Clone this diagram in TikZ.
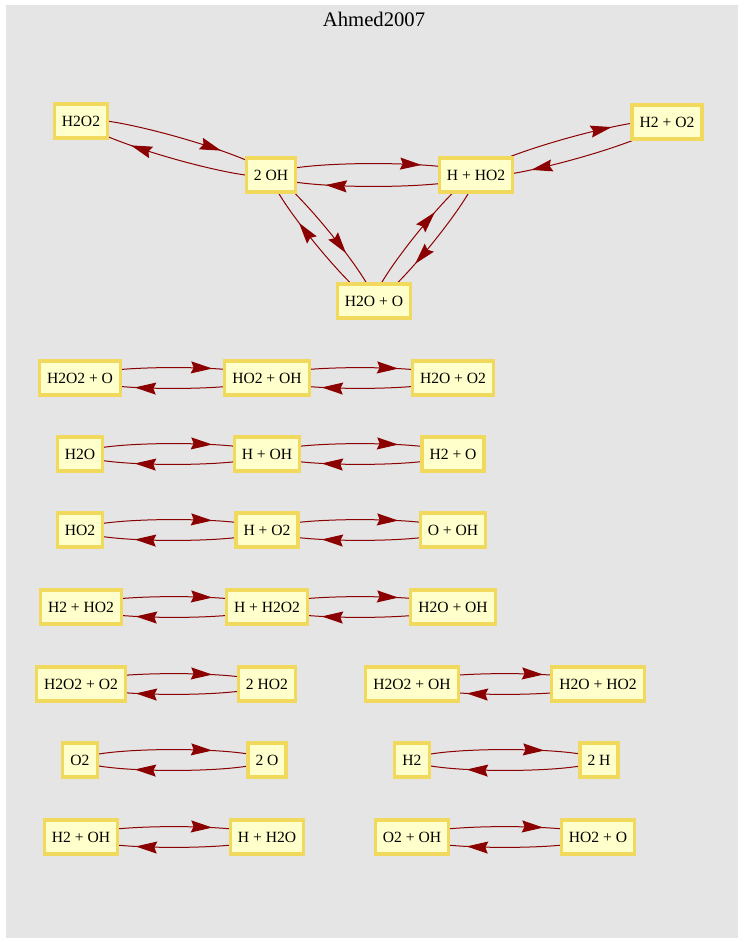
\documentclass[tikz,border=0pt]{standalone}
\usepackage{fontspec}
\setmainfont{Liberation Serif}
\usetikzlibrary{arrows.meta,decorations.markings}
\definecolor{spfill}{RGB}{255,255,204}
\definecolor{spline}{RGB}{241,217,93}
\definecolor{rxncol}{RGB}{139,0,0}
\definecolor{panel}{RGB}{229,229,229}
\pgfdeclarelayer{bg}
\pgfsetlayers{bg,main}

\begin{document}
\begin{tikzpicture}[x=0.75pt,y=-0.75pt,
    species/.style={draw=spline,fill=spfill,line width=2.4pt,inner xsep=5.7pt,
      inner ysep=0pt,minimum height=25.5pt,font=\fontsize{11.7}{13}\selectfont},
    rxn/.style={color=rxncol,line width=0.75pt,bend left=45,looseness=0.27,postaction={decorate},
      decoration={markings,mark=at position -42pt with
        {\arrow{Stealth[length=16pt,width=9pt,inset=2pt]}}}}]
    \useasboundingbox (0,0) rectangle (743,942);
    \node (title) at (374,19) {\fontsize{15.5}{18}\selectfont Ahmed2007};
    % the cycle
    \node[species] (h2o2) at (81,121) {H2O2};
    \node[species] (twooh) at (271,175) {2 OH};
    \node[species] (hho2) at (476,175) {H + HO2};
    \node[species] (h2po2) at (667,122) {H2 + O2};
    \node[species] (h2opo) at (374,301) {H2O + O};
    % chains
    \node[species] (h2o2po) at (80,378) {H2O2 + O};
    \node[species] (ho2poh) at (267,378) {HO2 + OH};
    \node[species] (h2opo2) at (453,378) {H2O + O2};
    \node[species] (h2o) at (80,454) {H2O};
    \node[species] (hpoh) at (267,454) {H + OH};
    \node[species] (h2po) at (453,454) {H2 + O};
    \node[species] (ho2) at (80,530) {HO2};
    \node[species] (hpo2) at (267,530) {H + O2};
    \node[species] (opoh) at (453,530) {O + OH};
    \node[species] (h2pho2) at (81,607) {H2 + HO2};
    \node[species] (hph2o2) at (267,607) {H + H2O2};
    \node[species] (h2opoh) at (453,607) {H2O + OH};
    % pairs
    \node[species] (h2o2po2) at (81,684) {H2O2 + O2};
    \node[species] (twoho2) at (267,684) {2 HO2};
    \node[species] (h2o2poh) at (412,684) {H2O2 + OH};
    \node[species] (h2opho2) at (598,684) {H2O + HO2};
    \node[species] (o2) at (80,760) {O2};
    \node[species] (twoo) at (267,760) {2 O};
    \node[species] (h2) at (412,760) {H2};
    \node[species] (twoh) at (599,760) {2 H};
    \node[species] (h2poh) at (81,837) {H2 + OH};
    \node[species] (hph2o) at (267,837) {H + H2O};
    \node[species] (o2poh) at (412,837) {O2 + OH};
    \node[species] (ho2po) at (598,837) {HO2 + O};
    \begin{pgfonlayer}{bg}
      \fill[panel] (6,5) rectangle (738,938);
      \draw[rxn] (h2o2.center) to (twooh.center);
      \draw[rxn] (twooh.center) to (h2o2.center);
      \draw[rxn] (twooh.center) to (hho2.center);
      \draw[rxn] (hho2.center) to (twooh.center);
      \draw[rxn] (hho2.center) to (h2po2.center);
      \draw[rxn] (h2po2.center) to (hho2.center);
      \draw[rxn] (twooh.center) to (h2opo.center);
      \draw[rxn] (h2opo.center) to (twooh.center);
      \draw[rxn] (h2opo.center) to (hho2.center);
      \draw[rxn] (hho2.center) to (h2opo.center);
      \draw[rxn] (h2o2po.center) to (ho2poh.center);
      \draw[rxn] (ho2poh.center) to (h2o2po.center);
      \draw[rxn] (ho2poh.center) to (h2opo2.center);
      \draw[rxn] (h2opo2.center) to (ho2poh.center);
      \draw[rxn] (h2o.center) to (hpoh.center);
      \draw[rxn] (hpoh.center) to (h2o.center);
      \draw[rxn] (hpoh.center) to (h2po.center);
      \draw[rxn] (h2po.center) to (hpoh.center);
      \draw[rxn] (ho2.center) to (hpo2.center);
      \draw[rxn] (hpo2.center) to (ho2.center);
      \draw[rxn] (hpo2.center) to (opoh.center);
      \draw[rxn] (opoh.center) to (hpo2.center);
      \draw[rxn] (h2pho2.center) to (hph2o2.center);
      \draw[rxn] (hph2o2.center) to (h2pho2.center);
      \draw[rxn] (hph2o2.center) to (h2opoh.center);
      \draw[rxn] (h2opoh.center) to (hph2o2.center);
      \draw[rxn] (h2o2po2.center) to (twoho2.center);
      \draw[rxn] (twoho2.center) to (h2o2po2.center);
      \draw[rxn] (h2o2poh.center) to (h2opho2.center);
      \draw[rxn] (h2opho2.center) to (h2o2poh.center);
      \draw[rxn] (o2.center) to (twoo.center);
      \draw[rxn] (twoo.center) to (o2.center);
      \draw[rxn] (h2.center) to (twoh.center);
      \draw[rxn] (twoh.center) to (h2.center);
      \draw[rxn] (h2poh.center) to (hph2o.center);
      \draw[rxn] (hph2o.center) to (h2poh.center);
      \draw[rxn] (o2poh.center) to (ho2po.center);
      \draw[rxn] (ho2po.center) to (o2poh.center);
    \end{pgfonlayer}
\end{tikzpicture}
\end{document}
